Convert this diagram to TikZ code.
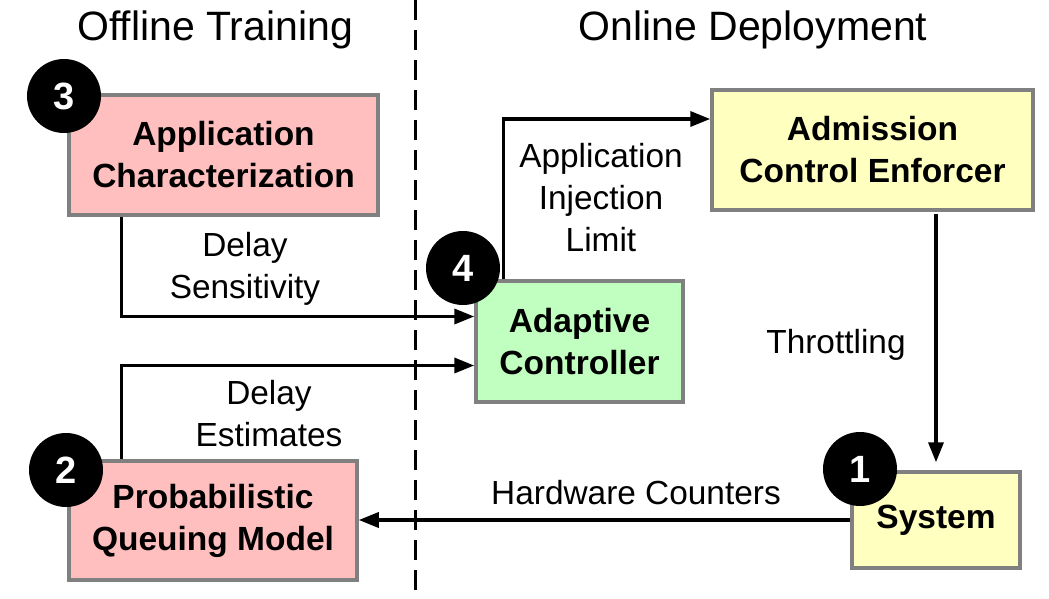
\documentclass[tikz,border=0pt]{standalone}
\usepackage{fontspec}
\setmainfont{Liberation Sans}
\usetikzlibrary{arrows.meta}

\definecolor{boxpink}{RGB}{255,191,191}
\definecolor{boxgreen}{RGB}{192,255,192}
\definecolor{boxyellow}{RGB}{255,255,192}
\definecolor{boxgray}{RGB}{128,128,128}

\tikzset{
block/.style={rectangle, draw=boxgray, line width=3.5pt, align=center, inner sep=0pt, font=\fontsize{33.5}{42}\selectfont\bfseries},
flow/.style={draw, line width=3.5pt, -{Triangle[length=20pt,width=15pt]}},
lbl/.style={align=center, inner sep=0pt, font=\fontsize{33.4}{42}\selectfont},
ttl/.style={inner sep=0pt, font=\fontsize{41}{48}\selectfont},
}

\newcommand{\stepK}[3]{
\node [circle, fill=black, minimum size=74pt, inner sep=0pt, text=white, font=\fontsize{38}{40}\selectfont\bfseries] (#1) at (#2) {#3};
}

\begin{document}
\begin{tikzpicture}[x=1pt,y=-1pt]
\useasboundingbox (0,0) rectangle (1049,599);

\begin{scope}
\path (415,0) coordinate (D1);
\path (415,599) coordinate (D2);
\draw [line width=3pt, dash pattern=on 20pt off 10pt] (D1) -- (D2);

\node [ttl] (offline) at (215,30) {Offline Training};
\node [ttl] (online) at (753,30) {Online Deployment};
\end{scope}

\begin{scope}
\node [block, fill=boxpink, minimum width=309pt, minimum height=120pt] (appchar) at (223.5,155) {Application\\Characterization};
\node [block, fill=boxgreen, minimum width=207pt, minimum height=121pt] (adaptive) at (579.5,341.5) {Adaptive\\Controller};
\node [block, fill=boxyellow, minimum width=321pt, minimum height=120pt] (admission) at (872.5,150) {Admission\\Control Enforcer};
\node [block, fill=boxyellow, minimum width=168pt, minimum height=96pt] (sys) at (936,520) {System};
\node [block, fill=boxpink, minimum width=288pt, minimum height=119pt] (queue) at (213,520.5) {Probabilistic\\Queuing Model};

\draw [flow] ([xshift=54pt]appchar.south west) |- ([yshift=25pt]adaptive.west);
\draw [flow] ([xshift=54pt]queue.north west) |- ([yshift=-24pt]adaptive.west);
\draw [flow] ([xshift=29pt]adaptive.north west) |- ([yshift=31pt]admission.west);
\draw [flow, shorten >=8pt] ([yshift=-2pt]admission.south -| sys.north) -- (sys.north);
\draw [flow] (sys.west) -- (queue.east |- sys.west);

\node [lbl] (sens) at (245,269) {Delay\\Sensitivity};
\node [lbl] (est) at (269,414) {Delay\\Estimates};
\node [lbl] (limit) at (601,198) {Application\\Injection\\Limit};
\node [lbl] (thr) at (836,345) {Throttling};
\node [lbl] (hw) at (636,493) {Hardware Counters};
\end{scope}

\stepK{n1}{860,469}{1};
\stepK{n2}{66,470}{2};
\stepK{n3}{64,96}{3};
\stepK{n4}{463,268}{4};

\end{tikzpicture}
\end{document}
